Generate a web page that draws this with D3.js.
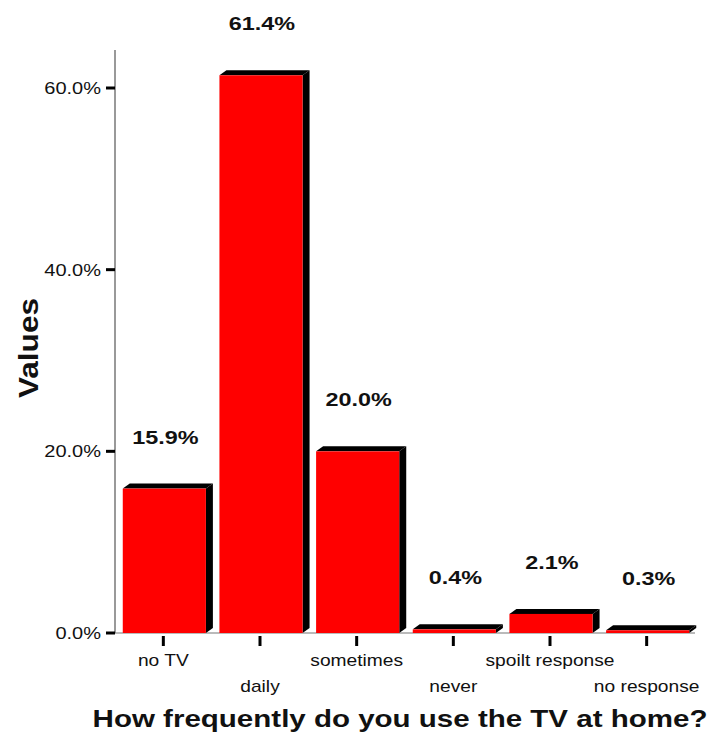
<!DOCTYPE html>
<html><head><meta charset="utf-8">
<script src="https://cdn.jsdelivr.net/npm/d3@7"></script>
<style>body{margin:0;background:#fff}svg{display:block}</style>
</head><body>
<svg id="c" width="710" height="740"></svg>
<script>
const categories = ["no TV","daily","sometimes","never","spoilt response","no response"];
const values = [15.9, 61.4, 20.0, 0.4, 2.1, 0.3];
const valueLabels = ["15.9%","61.4%","20.0%","0.4%","2.1%","0.3%"];
const yTicks = [0, 20, 40, 60];
const yTickLabels = ["0.0%","20.0%","40.0%","60.0%"];

const svg = d3.select("#c");
const font = "'Liberation Sans', Arial, sans-serif";
const x = d3.scaleBand().domain(categories).range([115, 695]).padding(0);
const y = d3.scaleLinear().domain([0, 60]).range([633, 88]);
const dx = 7, dy = 5;
const bw = x.bandwidth() * 0.86;

function label(g, tx, ty, txt, size, bold, anchor, sx) {
  return g.append("text")
    .attr("transform", `translate(${tx},${ty}) scale(${sx},1)`)
    .attr("text-anchor", anchor)
    .attr("font-family", font).attr("font-size", size)
    .attr("font-weight", bold ? "bold" : "normal")
    .attr("fill", "#111")
    .text(txt);
}

// y axis line
svg.append("line").attr("x1",115).attr("x2",115).attr("y1",50).attr("y2",y(0))
  .attr("stroke","#555").attr("stroke-width",1.2);
// baseline
svg.append("line").attr("x1",115).attr("x2",695).attr("y1",y(0)).attr("y2",y(0))
  .attr("stroke","#777").attr("stroke-width",1.2);

// y ticks
const yg = svg.append("g");
yTicks.forEach((t,i)=>{
  yg.append("line").attr("x1",106).attr("x2",115).attr("y1",y(t)).attr("y2",y(t))
    .attr("stroke","#000").attr("stroke-width",3);
  label(yg, 101, y(t)+6, yTickLabels[i], 16, false, "end", 1.25);
});

// bars
const bars = svg.append("g");
categories.forEach((c,i)=>{
  const cx = x(c) + x.bandwidth()/2;
  const x0 = cx - bw/2 + 1, x1 = x0 + bw;
  const top = y(values[i]), base = y(0);
  bars.append("path").attr("d",`M${x0},${top}L${x0+dx},${top-dy}L${x1+dx},${top-dy}L${x1},${top}Z`).attr("fill","#000");
  bars.append("path").attr("d",`M${x1},${top}L${x1+dx},${top-dy}L${x1+dx},${base-dy}L${x1},${base}Z`).attr("fill","#000");
  bars.append("rect").attr("x",x0).attr("y",top).attr("width",bw).attr("height",base-top).attr("fill","#ff0000");
  label(svg, cx+2, top-45, valueLabels[i], 18, true, "middle", 1.3);
  // x ticks
  svg.append("line").attr("x1",cx).attr("x2",cx).attr("y1",636).attr("y2",646)
    .attr("stroke","#000").attr("stroke-width",3);
  label(svg, cx, i%2===0 ? 666 : 692, c, 16, false, "middle", 1.2);
});

svg.append("text").attr("transform","translate(38,348) rotate(-90)").attr("text-anchor","middle")
  .attr("font-family",font).attr("font-weight","bold").attr("font-size",27)
  .attr("textLength",100).attr("lengthAdjust","spacingAndGlyphs").attr("fill","#111").text("Values");
label(svg, 400, 727, "How frequently do you use the TV at home?", 24, true, "middle", 1.23);
</script>
</body></html>
